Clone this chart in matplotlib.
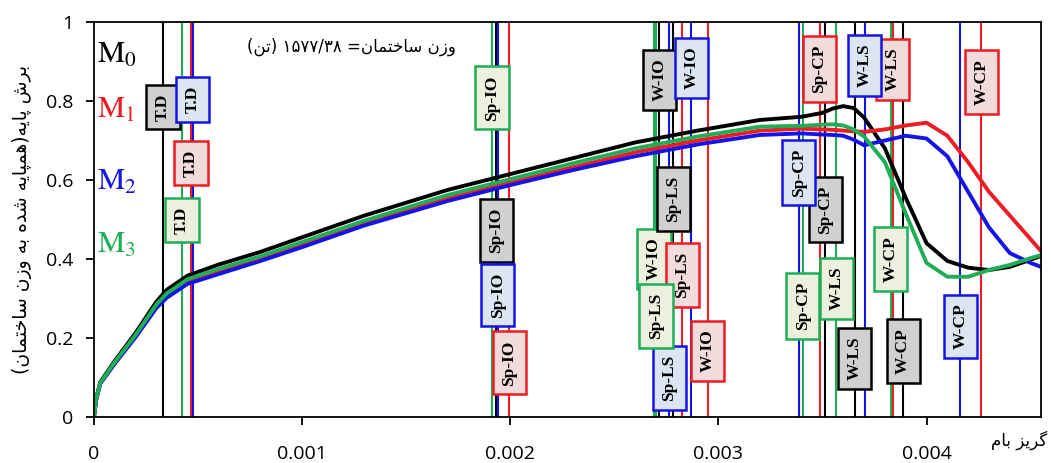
import numpy as np
import matplotlib
matplotlib.use("Agg")
import matplotlib.pyplot as plt

plt.rcParams["font.family"] = ["Open Sans", "DejaVu Sans"]
plt.rcParams["mathtext.fontset"] = "stix"

# pushover curves: base shear / building weight vs roof drift
drift = [0, 0.00001, 0.00003, 0.0001, 0.0002, 0.0003, 0.00035, 0.00045, 0.0006,
         0.0008, 0.001, 0.0013, 0.0017, 0.002, 0.0023, 0.0026, 0.0029, 0.0032,
         0.0034, 0.0035, 0.00355, 0.0036, 0.00365, 0.0037, 0.0038, 0.0039, 0.004,
         0.0041, 0.0042, 0.0043, 0.0044, 0.0045, 0.00455]
shear_m0 = [0, 0.045, 0.088, 0.142, 0.213, 0.292, 0.322, 0.358, 0.386, 0.418,
            0.455, 0.510, 0.575, 0.615, 0.655, 0.695, 0.725, 0.752, 0.760, 0.770,
            0.781, 0.787, 0.782, 0.758, 0.680, 0.555, 0.440, 0.395, 0.378, 0.372,
            0.380, 0.398, 0.408]
shear_m1 = [0, 0.043, 0.085, 0.137, 0.205, 0.280, 0.307, 0.342, 0.367, 0.400,
            0.437, 0.490, 0.553, 0.593, 0.632, 0.670, 0.700, 0.725, 0.730, 0.728,
            0.727, 0.725, 0.723, 0.722, 0.728, 0.738, 0.745, 0.712, 0.645, 0.570,
            0.510, 0.450, 0.420]
shear_m2 = [0, 0.042, 0.084, 0.135, 0.202, 0.276, 0.302, 0.337, 0.362, 0.395,
            0.430, 0.485, 0.547, 0.587, 0.625, 0.660, 0.690, 0.714, 0.718, 0.715,
            0.714, 0.712, 0.702, 0.688, 0.700, 0.712, 0.705, 0.660, 0.570, 0.480,
            0.415, 0.390, 0.380]
shear_m3 = [0, 0.044, 0.086, 0.139, 0.208, 0.285, 0.313, 0.349, 0.375, 0.407,
            0.443, 0.497, 0.562, 0.602, 0.642, 0.680, 0.710, 0.735, 0.737, 0.740,
            0.741, 0.738, 0.728, 0.710, 0.645, 0.515, 0.390, 0.355, 0.355, 0.372,
            0.385, 0.402, 0.410]

models = ["M0", "M1", "M2", "M3"]
line_colors = ["#000000", "#ee1c24", "#1414e6", "#1fae55"]
box_colors = ["#d0d0d0", "#f2dcdb", "#dce6f2", "#ebf1de"]

# performance points (drift) per model, order M0..M3
levels = ["T.D", "Sp-IO", "W-IO", "Sp-LS", "Sp-CP", "W-LS", "W-CP"]
level_drift = {
    "T.D":   [0.000332, 0.000466, 0.000474, 0.000423],
    "Sp-IO": [0.001933, 0.001995, 0.001940, 0.001912],
    "W-IO":  [0.002716, 0.002949, 0.002870, 0.002690],
    "Sp-LS": [0.002784, 0.002827, 0.002764, 0.002700],
    "Sp-CP": [0.003514, 0.003486, 0.003386, 0.003405],
    "W-LS":  [0.003654, 0.003838, 0.003703, 0.003567],
    "W-CP":  [0.003888, 0.004263, 0.004163, 0.003827],
}
# height of each tag along its line
tag_y = {
    "T.D":   [0.785, 0.643, 0.803, 0.499],
    "Sp-IO": [0.472, 0.137, 0.309, 0.808],
    "W-IO":  [0.853, 0.167, 0.884, 0.400],
    "Sp-LS": [0.552, 0.360, 0.099, 0.256],
    "Sp-CP": [0.525, 0.881, 0.619, 0.281],
    "W-LS":  [0.149, 0.880, 0.891, 0.325],
    "W-CP":  [0.167, 0.848, 0.230, 0.400],
}
legend_y = [0.896, 0.757, 0.575, 0.415]

ylabel_fa = "برش پایه(همپایه شده به وزن ساختمان)"
xlabel_fa = "گریز بام"
weight_fa = "وزن ساختمان= ۱۵۷۷/۳۸ (تن)"


# matplotlib has no Arabic shaping/bidi, so join letters by hand
DUAL = {
    "ب": "\uFE8F\uFE90\uFE91\uFE92", "پ": "\uFB56\uFB57\uFB58\uFB59",
    "ت": "\uFE95\uFE96\uFE97\uFE98", "خ": "\uFEA5\uFEA6\uFEA7\uFEA8",
    "س": "\uFEB1\uFEB2\uFEB3\uFEB4", "ش": "\uFEB5\uFEB6\uFEB7\uFEB8",
    "گ": "\uFB92\uFB93\uFB94\uFB95", "م": "\uFEE1\uFEE2\uFEE3\uFEE4",
    "ن": "\uFEE5\uFEE6\uFEE7\uFEE8", "ه": "\uFEE9\uFEEA\uFEEB\uFEEC",
    "ی": "\uFBFC\uFBFD\uFBFE\uFBFF",
}
RIGHT = {
    "ا": "\uFE8D\uFE8E", "د": "\uFEA9\uFEAA", "ر": "\uFEAD\uFEAE",
    "ز": "\uFEAF\uFEB0", "و": "\uFEED\uFEEE",
}
DIGITS = set("۰۱۲۳۴۵۶۷۸۹0123456789/.")


def fa(text):
    out = []
    for i, ch in enumerate(text):
        prev = text[i - 1] if i > 0 else ""
        nxt = text[i + 1] if i + 1 < len(text) else ""
        join_prev = prev in DUAL
        join_next = ch in DUAL and (nxt in DUAL or nxt in RIGHT)
        if ch in DUAL:
            f = DUAL[ch]
            out.append(f[3] if join_prev and join_next else f[1] if join_prev
                       else f[2] if join_next else f[0])
        elif ch in RIGHT:
            out.append(RIGHT[ch][1] if join_prev else RIGHT[ch][0])
        else:
            out.append(ch)
    vis = "".join(reversed(out)).translate(str.maketrans("()", ")("))
    # keep number runs left-to-right
    res, run = [], []
    for ch in vis:
        if ch in DIGITS:
            run.append(ch)
        else:
            res.extend(reversed(run)); run = []
            res.append(ch)
    res.extend(reversed(run))
    return "".join(res)


fig = plt.figure(figsize=(10.51, 4.63), dpi=100)
ax = fig.add_axes([0.0894, 0.0994, 0.9011, 0.8531])

for lev in levels:
    for k in range(4):
        ax.axvline(level_drift[lev][k], color=line_colors[k], lw=1.5, zorder=1)

for k, ys in enumerate([shear_m0, shear_m1, shear_m2, shear_m3]):
    ax.plot(drift, ys, color=line_colors[k], lw=2.8, zorder=2,
            solid_capstyle="round", solid_joinstyle="round")

for lev in levels:
    for k in range(4):
        ax.text(level_drift[lev][k], tag_y[lev][k], lev, rotation=90,
                ha="center", va="center", fontsize=12.5, fontweight="bold",
                family="Liberation Serif", zorder=4,
                bbox=dict(boxstyle="square,pad=0.5", fc=box_colors[k],
                          ec=line_colors[k], lw=1.8))

for k, m in enumerate(models):
    ax.text(0.0000144, legend_y[k], r"$\mathrm{M}_{%s}$" % m[1:], color=line_colors[k],
            fontsize=22, ha="left", va="baseline", zorder=5)

ax.text(0.001236, 0.937, fa(weight_fa), fontsize=12, ha="center", va="center",
        family="DejaVu Sans")

ax.set_xlim(0, 0.00455)
ax.set_ylim(0, 1)
ax.set_xticks([0, 0.001, 0.002, 0.003, 0.004])
ax.set_xticklabels(["0", "0.001", "0.002", "0.003", "0.004"])
ax.set_yticks([0, 0.2, 0.4, 0.6, 0.8, 1])
ax.set_yticklabels(["0", "0.2", "0.4", "0.6", "0.8", "1"])
ax.tick_params(axis="x", length=6, width=1.3, pad=14, labelsize=14)
ax.tick_params(axis="y", length=6, width=1.3, pad=9, labelsize=14)
for s in ax.spines.values():
    s.set_linewidth(1.3)

fig.text(0.021, 0.525, fa(ylabel_fa), rotation=90, ha="center", va="center",
         fontsize=13.5, family="DejaVu Sans")
fig.text(0.970, 0.050, fa(xlabel_fa), ha="center", va="center",
         fontsize=12, family="DejaVu Sans")

fig.savefig("out.png", dpi=100)
